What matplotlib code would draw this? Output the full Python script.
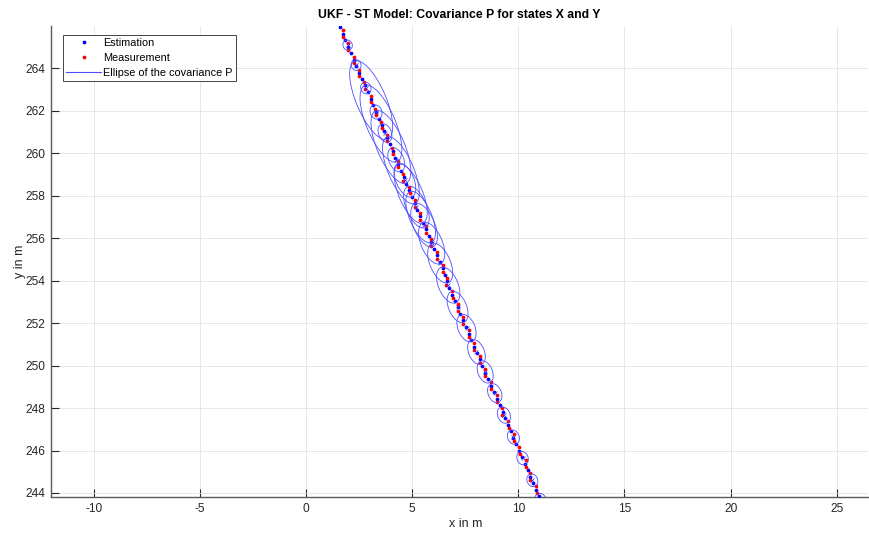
import matplotlib
matplotlib.use("Agg")
import matplotlib.pyplot as plt
from matplotlib.patches import Ellipse
from matplotlib.lines import Line2D

plt.rcParams['font.family'] = ['Liberation Sans', 'DejaVu Sans']
plt.rcParams['axes.unicode_minus'] = False

# ---------------- data ----------------
est_y = [265.95, 265.62, 265.33, 265.02, 264.71, 264.40, 264.12, 263.80, 263.49, 263.20,
         262.88, 262.57, 262.27, 261.95, 261.64, 261.35, 261.03, 260.72, 260.42, 260.10,
         259.80, 259.50, 259.18, 258.88, 258.57, 258.27, 257.95, 257.65, 257.34, 257.03,
         256.73, 256.42, 256.11, 255.81, 255.50, 255.19, 254.89, 254.58, 254.27, 253.97,
         253.66, 253.35, 253.05, 252.74, 252.43, 252.13, 251.82, 251.51, 251.21, 250.90,
         250.59, 250.29, 249.98, 249.67, 249.37, 249.06, 248.75, 248.45, 248.14, 247.83,
         247.53, 247.22, 246.91, 246.61, 246.30, 245.99, 245.69, 245.38, 245.07, 244.77,
         244.46, 244.15, 243.85]
est_x = [1.60, 1.75, 1.86, 2.00, 2.12, 2.27, 2.37, 2.52, 2.63, 2.78,
         2.90, 3.05, 3.15, 3.31, 3.42, 3.56, 3.68, 3.83, 3.94, 4.09,
         4.20, 4.35, 4.46, 4.61, 4.72, 4.87, 4.99, 5.13, 5.24, 5.39,
         5.50, 5.65, 5.77, 5.91, 6.03, 6.17, 6.29, 6.43, 6.55, 6.63,
         6.75, 6.89, 7.01, 7.14, 7.27, 7.40, 7.53, 7.66, 7.79, 7.92,
         8.05, 8.18, 8.31, 8.45, 8.58, 8.72, 8.86, 8.99, 9.12, 9.26,
         9.38, 9.51, 9.64, 9.77, 9.91, 10.04, 10.17, 10.30, 10.44, 10.57,
         10.70, 10.83, 10.96]

meas_y = [265.80, 265.48, 265.18, 264.86, 264.56, 264.26, 263.95, 263.65, 263.34, 263.03,
          262.72, 262.42, 262.11, 261.80, 261.50, 261.19, 260.88, 260.57, 260.26, 259.95,
          259.65, 259.34, 259.03, 258.72, 258.42, 258.11, 257.80, 257.49, 257.19, 256.88,
          256.57, 256.27, 255.96, 255.65, 255.35, 255.04, 254.73, 254.43, 254.12, 253.81,
          253.51, 253.20, 252.89, 252.59, 252.28, 251.97, 251.67, 251.36, 251.05, 250.75,
          250.44, 250.13, 249.83, 249.52, 249.21, 248.91, 248.60, 248.29, 247.99, 247.68,
          247.37, 247.07, 246.76, 246.45, 246.15, 245.84, 245.53, 245.23, 244.92, 244.61,
          244.31, 244.00]
meas_x = [1.73, 1.74, 1.96, 1.98, 2.26, 2.28, 2.51, 2.51, 2.75, 2.79,
          3.05, 3.04, 3.25, 3.28, 3.55, 3.59, 3.82, 3.81, 4.06, 4.10,
          4.35, 4.35, 4.57, 4.59, 4.86, 4.89, 5.13, 5.13, 5.36, 5.38,
          5.66, 5.66, 5.87, 5.89, 6.16, 6.19, 6.43, 6.43, 6.65, 6.60,
          6.88, 6.91, 7.15, 7.15, 7.38, 7.40, 7.68, 7.68, 7.89, 7.91,
          8.18, 8.21, 8.45, 8.45, 8.70, 8.73, 9.01, 9.01, 9.22, 9.24,
          9.51, 9.54, 9.78, 9.78, 10.01, 10.06, 10.34, 10.34, 10.55, 10.57,
          10.84, 10.87]

# small (updated) covariance ellipses: centre, semi-axes
ell_cx = [1.96, 2.36, 2.82, 3.30, 3.72, 4.25, 4.66, 5.20, 5.56, 5.92, 6.32,
          6.70, 7.14, 7.56, 8.03, 8.44, 8.89, 9.32, 9.77, 10.20, 10.66, 11.05]
ell_cy = [265.10, 264.16, 263.08, 261.95, 260.96, 259.70, 258.74, 257.47, 256.62, 255.77, 254.83,
          253.79, 252.76, 251.77, 250.64, 249.70, 248.70, 247.67, 246.63, 245.64, 244.60, 243.66]
ell_a = [0.24, 0.26, 0.28, 0.35, 0.45, 0.60, 0.85, 1.05, 1.10, 1.05, 1.00,
         0.90, 0.78, 0.68, 0.62, 0.55, 0.47, 0.40, 0.35, 0.33, 0.31, 0.33]
ell_b = [0.22, 0.23, 0.24, 0.27, 0.30, 0.35, 0.42, 0.48, 0.50, 0.50, 0.48,
         0.46, 0.42, 0.40, 0.37, 0.34, 0.31, 0.29, 0.27, 0.26, 0.25, 0.27]

# large (predicted) covariance ellipses in the upper part
big_cx = [3.07, 3.53, 4.00, 4.47, 4.93, 5.40]
big_cy = [262.5, 261.4, 260.3, 259.2, 258.1, 257.0]
big_a = [2.00, 1.95, 1.85, 1.70, 1.50, 1.30]
big_b = [0.70, 0.68, 0.65, 0.60, 0.56, 0.52]
ell_angle = -67.0

x_ticks = [-10, -5, 0, 5, 10, 15, 20, 25]
y_ticks = [244, 246, 248, 250, 252, 254, 256, 258, 260, 262, 264]

# ---------------- figure ----------------
W, H = 869, 533
fig = plt.figure(figsize=(W / 100, H / 100), dpi=100)
L, R, T, B = 51, 868, 26, 497
ax = fig.add_axes([L / W, (H - B) / H, (R - L) / W, (B - T) / H])

ax.grid(True, color='#e3e3e3', linewidth=0.6, zorder=0)
ax.set_axisbelow(True)

ell_col = (0.3, 0.3, 1.0)
ax.plot(est_x, est_y, linestyle='none', marker='o', markersize=2.7, markeredgewidth=0,
        color=(0, 0, 1), zorder=3)
ax.plot(meas_x, meas_y, linestyle='none', marker='o', markersize=2.7, markeredgewidth=0,
        color=(1, 0, 0), zorder=3)

for cx, cy, a, b in zip(ell_cx, ell_cy, ell_a, ell_b):
    ax.add_patch(Ellipse((cx, cy), 2 * a, 2 * b, angle=ell_angle, fill=False,
                         edgecolor=ell_col, linewidth=0.6, zorder=4))
for cx, cy, a, b in zip(big_cx, big_cy, big_a, big_b):
    ax.add_patch(Ellipse((cx, cy), 2 * a, 2 * b, angle=ell_angle, fill=False,
                         edgecolor=ell_col, linewidth=0.6, zorder=4))
ax.plot(ell_cx, ell_cy, linestyle='none', marker='x', markersize=3, markeredgewidth=0.5,
        color=(0.2, 0.2, 1.0), zorder=4)

ax.set_xlim(-12.01, 26.47)
ax.set_ylim(243.81, 266.0)
ax.set_xticks(x_ticks)
ax.set_yticks(y_ticks)
ax.tick_params(direction='in', length=6, width=0.8, colors='#262626', labelsize=8.6,
               pad=4)
for s in ['top', 'right']:
    ax.spines[s].set_visible(False)
for s in ['left', 'bottom']:
    ax.spines[s].set_color('#5a5a5a')
    ax.spines[s].set_linewidth(1.0)

ax.set_title('UKF - ST Model: Covariance P for states X and Y', fontsize=8.8,
             fontweight='bold', pad=6)
ax.set_xlabel('x in m', fontsize=9, color='#262626')
ax.set_ylabel('y in m', fontsize=9, color='#262626')
ax.xaxis.set_label_coords(0.507, -0.044)
ax.yaxis.set_label_coords(-0.031, 0.5)

handles = [
    Line2D([], [], linestyle='none', marker='o', markersize=2.7, markeredgewidth=0,
           color=(0, 0, 1), label='Estimation'),
    Line2D([], [], linestyle='none', marker='o', markersize=2.7, markeredgewidth=0,
           color=(1, 0, 0), label='Measurement'),
    Line2D([], [], color=ell_col, linewidth=0.8, label='Ellipse of the covariance P'),
]
leg = ax.legend(handles=handles, loc='upper left',
                bbox_to_anchor=((63 - L) / (R - L), (B - 35) / (B - T)),
                borderaxespad=0, fontsize=7.8, handlelength=3.2, handletextpad=0.2,
                labelspacing=0.45, borderpad=0.3, fancybox=False, framealpha=1)
leg.get_frame().set_edgecolor('#262626')
leg.get_frame().set_linewidth(0.6)

fig.savefig('out.png', dpi=100)
